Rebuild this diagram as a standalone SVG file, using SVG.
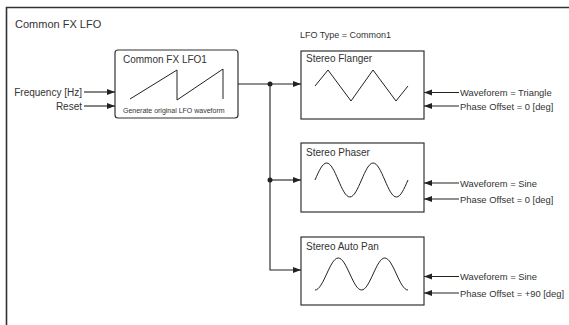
<svg xmlns="http://www.w3.org/2000/svg" width="569" height="325" viewBox="0 0 569 325">
<defs>
<marker id="arr" markerUnits="userSpaceOnUse" markerWidth="9" markerHeight="7" refX="8" refY="3" orient="auto">
<path d="M0,0 L8,3 L0,6 z" fill="#222"/>
</marker>
<style>
text{font-family:"Liberation Sans",Arial,sans-serif;fill:#333}
.t10{font-size:10px}
.lab{font-size:9.4px}
.t9{font-size:9px}
.t7{font-size:7px}
.box{fill:#fff;stroke:#333;stroke-width:1.2}
.wave{fill:none;stroke:#222;stroke-width:1}
.con{fill:none;stroke:#222;stroke-width:1.1}
.arr{marker-end:url(#arr)}
</style>
</defs>
<path d="M6.5,330 V7.5 H575" fill="none" stroke="#333" stroke-width="1.6"/>
<text class="t10" x="15" y="28" style="font-size:11px">Common FX LFO</text>
<text class="t9" x="300" y="38">LFO Type = Common1</text>

<g id="lfo1">
<rect class="box" x="115" y="50" width="123" height="68" rx="3"/>
<text class="t10" x="123" y="63">Common FX LFO1</text>
<path class="wave" d="M130,99 L177,70 V100 L223,69 V99"/>
<text class="t7" x="123" y="113">Generate original LFO waveform</text>
</g>

<g id="flanger">
<rect class="box" x="301" y="51" width="123" height="68"/>
<text class="t10" x="306" y="62">Stereo Flanger</text>
<path class="wave" d="M315,86 L328,70 L351,101 L373,70 L396,101 L408,86"/>
</g>

<g id="phaser">
<rect class="box" x="301" y="143" width="123" height="69"/>
<text class="t10" x="306" y="156">Stereo Phaser</text>
<path class="wave" d="M315,180 C318.89,171.07 322.44,163 326.63,163 C330.81,163 334.36,171.07 338.25,180 C342.14,188.93 345.69,197 349.88,197 C354.06,197 357.61,188.93 361.5,180 C365.39,171.07 368.94,163 373.13,163 C377.31,163 380.86,171.07 384.75,180 C388.64,188.93 392.19,197 396.38,197 C400.56,197 404.11,188.93 408,180"/>
</g>

<g id="autopan">
<rect class="box" x="301" y="237" width="123" height="68"/>
<text class="t10" x="306" y="250">Stereo Auto Pan</text>
<path class="wave" d="M315,290 C319.18,290 322.74,282.4 326.63,274 C330.51,265.6 334.07,258 338.25,258 C342.43,258 345.99,265.6 349.88,274 C353.76,282.4 357.32,290 361.5,290 C365.68,290 369.24,282.4 373.13,274 C377.01,265.6 380.57,258 384.75,258 C388.93,258 392.49,265.6 396.38,274 C400.26,282.4 403.82,290 408,290"/>
</g>

<g id="labels">
<text class="t10" x="82" y="95.5" text-anchor="end">Frequency [Hz]</text>
<text class="t10" x="82" y="109.5" text-anchor="end">Reset</text>
<text class="lab" x="460" y="95.5">Waveforem = Triangle</text>
<text class="lab" x="460" y="109.5">Phase Offset = 0 [deg]</text>
<text class="lab" x="460" y="186.5">Waveforem = Sine</text>
<text class="lab" x="460" y="202.5">Phase Offset = 0 [deg]</text>
<text class="lab" x="460" y="280">Waveforem = Sine</text>
<text class="lab" x="460" y="296.5">Phase Offset = +90 [deg]</text>
</g>

<g id="connectors">
<path class="con arr" d="M84,92 H115"/>
<path class="con arr" d="M84,106 H115"/>
<path class="con arr" d="M238,84 H301"/>
<path class="con arr" d="M270,84 V270 H301"/>
<path class="con arr" d="M270,180 H301"/>
<circle cx="270" cy="84" r="2.5" fill="#222"/>
<circle cx="270" cy="180" r="2.5" fill="#222"/>
<path class="con arr" d="M459,92.5 H424"/>
<path class="con arr" d="M459,106 H424"/>
<path class="con arr" d="M459,183 H424"/>
<path class="con arr" d="M459,199 H424"/>
<path class="con arr" d="M459,276.5 H424"/>
<path class="con arr" d="M459,293 H424"/>
</g>
</svg>
